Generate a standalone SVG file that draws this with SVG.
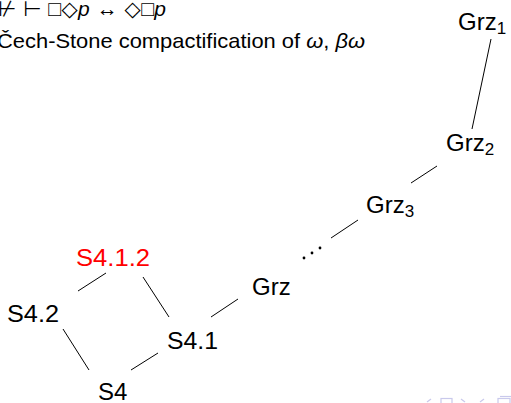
<svg xmlns="http://www.w3.org/2000/svg" width="511" height="403" viewBox="0 0 511 403">
<style>
text{font-family:"Liberation Sans","DejaVu Sans",sans-serif;fill:#000}
.n{font-size:24px}
.sub{font-size:17px}
.red{fill:#ff0000}
#connectors line{stroke:#000;stroke-width:1}
.nav{fill:none;stroke:#c9c9ec;stroke-width:1.2}
</style>
<rect width="511" height="403" fill="#fff"/>
<g id="header">
<text x="-2" y="16" font-size="21" textLength="168" lengthAdjust="spacing">⊬ ⊢ □◇<tspan font-style="italic">p</tspan> ↔ ◇□<tspan font-style="italic">p</tspan></text>
<text x="-3" y="48" font-size="21" textLength="368" lengthAdjust="spacingAndGlyphs">Čech-Stone compactification of <tspan font-style="italic">ω</tspan>, <tspan font-style="italic">βω</tspan></text>
</g>
<g id="connectors">
<line x1="491" y1="39" x2="472" y2="129"/>
<line x1="437" y1="166" x2="411" y2="183"/>
<line x1="358" y1="220" x2="331" y2="238"/>
<line x1="238" y1="299" x2="211" y2="317"/>
<line x1="106" y1="273" x2="78" y2="291"/>
<line x1="143" y1="277" x2="169" y2="317"/>
<line x1="63" y1="329" x2="89" y2="370"/>
<line x1="158" y1="353" x2="131" y2="370"/>
</g>
<g id="dots">
<circle cx="304" cy="258" r="1.4"/>
<circle cx="312" cy="253" r="1.4"/>
<circle cx="320" cy="248" r="1.4"/>
</g>
<g id="grz1"><text class="n" x="458" y="30">Grz<tspan class="sub" dy="4">1</tspan></text></g>
<g id="grz2"><text class="n" x="446" y="151">Grz<tspan class="sub" dy="4">2</tspan></text></g>
<g id="grz3"><text class="n" x="366" y="213">Grz<tspan class="sub" dy="4">3</tspan></text></g>
<g id="grz"><text class="n" x="252" y="295">Grz</text></g>
<g id="s412"><text class="n red" x="76" y="266" textLength="74" lengthAdjust="spacingAndGlyphs">S4.1.2</text></g>
<g id="s42"><text class="n" x="7" y="322" textLength="52" lengthAdjust="spacingAndGlyphs">S4.2</text></g>
<g id="s41"><text class="n" x="167" y="349" textLength="51" lengthAdjust="spacingAndGlyphs">S4.1</text></g>
<g id="s4"><text class="n" x="98" y="400">S4</text></g>
<g id="nav">
<path class="nav" d="M431 399 L427 402"/>
<rect class="nav" x="441" y="398.5" width="11" height="6"/>
<path class="nav" d="M461 399 L465 402"/>
<path class="nav" d="M484 399 L480 402"/>
<rect class="nav" x="498" y="398.5" width="12" height="6"/>
<path class="nav" d="M500 396.5 H512"/>
</g>
</svg>
